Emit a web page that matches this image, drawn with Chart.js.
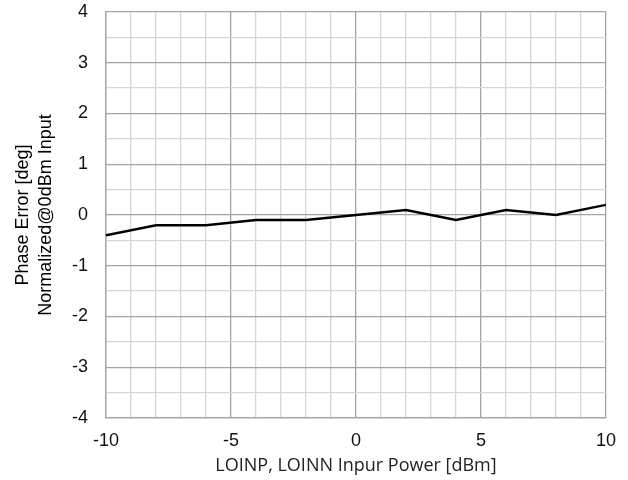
<!DOCTYPE html>
<html>
<head>
<meta charset="utf-8">
<script src="https://cdn.jsdelivr.net/npm/chart.js@4"></script>
<style>
  html, body { margin: 0; padding: 0; background: #fff; }
  #wrap { width: 628px; height: 480px; }
</style>
</head>
<body>
<div id="wrap"><canvas id="phaseChart" width="628" height="480"></canvas></div>
<script>
// LO input power sweep vs normalized phase error
const powerDbm = [-10, -8, -6, -4, -2, 0, 2, 4, 6, 8, 10];
const phaseErrDeg = [-0.4, -0.2, -0.2, -0.1, -0.1, 0, 0.1, -0.1, 0.1, 0, 0.2];
const xTickLabels = [-10, -5, 0, 5, 10];
const yTickLabels = [-4, -3, -2, -1, 0, 1, 2, 3, 4];

const tickFont = { family: '"Liberation Sans", Arial, sans-serif', size: 18 };

function near(list, v) {
    return list.some(t => Math.abs(t - v) < 1e-6);
}

const ctx = document.getElementById('phaseChart').getContext('2d');
new Chart(ctx, {
    type: 'line',
    data: {
        datasets: [{
            label: 'Phase Error',
            data: powerDbm.map((x, i) => ({ x: x, y: phaseErrDeg[i] })),
            borderColor: '#000',
            borderWidth: 2.5,
            pointRadius: 0,
            tension: 0,
            fill: false
        }]
    },
    options: {
        responsive: false,
        animation: false,
        layout: { padding: { top: 12, right: 19, left: 0, bottom: 0 } },
        plugins: {
            legend: { display: false },
            tooltip: { enabled: false }
        },
        scales: {
            x: {
                type: 'linear',
                min: -10,
                max: 10,
                afterFit: s => { s.height = 62; },
                ticks: {
                    stepSize: 1,
                    autoSkip: false,
                    maxRotation: 0,
                    color: '#111',
                    font: tickFont,
                    padding: 12,
                    callback: v => near(xTickLabels, v) ? String(v) : ''
                },
                grid: {
                    drawTicks: false,
                    color: c => near(xTickLabels, c.tick.value) ? '#a3a3a3' : '#d6d6d6',
                    lineWidth: 1.3
                },
                border: { color: '#a3a3a3', width: 1.3 },
                title: {
                    display: true,
                    text: 'LOINP, LOINN Inpur Power [dBm]',
                    color: '#222',
                    font: { family: '"Open Sans", sans-serif', size: 18 },
                    padding: { top: 4, bottom: 3 }
                }
            },
            y: {
                min: -4,
                max: 4,
                // labels may overhang the top edge; don't let them push the plot down
                afterFit: s => {
                    s.width = 106;
                    s.paddingTop = 0;
                    s.paddingBottom = 0;
                },
                ticks: {
                    stepSize: 0.5,
                    autoSkip: false,
                    color: '#111',
                    font: tickFont,
                    padding: 18,
                    callback: v => near(yTickLabels, v) ? String(v) : ''
                },
                grid: {
                    drawTicks: false,
                    color: c => near(yTickLabels, c.tick.value) ? '#a3a3a3' : '#d6d6d6',
                    lineWidth: 1.3
                },
                border: { color: '#a3a3a3', width: 1.3 },
                title: {
                    display: true,
                    text: ['Phase Error [deg]', 'Normalized@0dBm Input'],
                    color: '#000',
                    font: { family: '"Liberation Sans", Arial, sans-serif', size: 18, lineHeight: 1.3 },
                    padding: { top: 11, bottom: 0 }
                }
            }
        }
    }
});
</script>
</body>
</html>
